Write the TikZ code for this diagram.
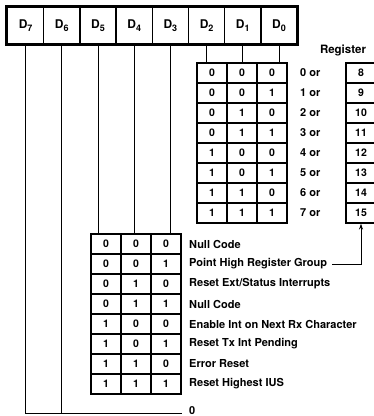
\documentclass[tikz,border=0pt]{standalone}
\usepackage{fontspec}
\setmainfont{TeX Gyre Heros}
\usetikzlibrary{arrows.meta}
\begin{document}
\begin{tikzpicture}[x=1pt,y=-1pt,
  bitcell/.style={draw,line width=1.5pt,minimum width=36.2pt,minimum height=37pt,inner sep=0pt,font=\bfseries\fontsize{12}{12}\selectfont},
  tcell/.style={draw,line width=1.1pt,minimum width=30pt,minimum height=20pt,inner sep=0pt,font=\bfseries\fontsize{10.5}{10.5}\selectfont},
  rcell/.style={draw,line width=1.1pt,minimum width=30pt,minimum height=20pt,inner sep=0pt,font=\bfseries\fontsize{10.5}{10.5}\selectfont},
  lbl/.style={anchor=west,inner sep=0pt,font=\bfseries\fontsize{11}{11}\selectfont},
  wire/.style={line width=1pt}]
\useasboundingbox (0,0) rectangle (374,416);
% bit register
\foreach \i in {0,...,7}{
  \node[bitcell] (b\i) at ({7.5+36.2*(7-\i)+18.1},25.5) {D\raisebox{-2.5pt}{\fontsize{9}{9}\selectfont\i}};
}
\draw[line width=3pt] (b7.north west) rectangle (b0.south east);
% register table
\foreach \r/\a/\b/\c/\n in {0/0/0/0/8,1/0/0/1/9,2/0/1/0/10,3/0/1/1/11,4/1/0/0/12,5/1/0/1/13,6/1/1/0/14,7/1/1/1/15}{
  \node[tcell] (ra\r) at (212,{73+20*\r}) {\a};
  \node[tcell] (rb\r) at (242,{73+20*\r}) {\b};
  \node[tcell] (rc\r) at (272,{73+20*\r}) {\c};
  \node[lbl] (ro\r) at (300,{73+20*\r}) {\r\ or};
  \node[rcell] (rr\r) at (361,{73+20*\r}) {\n};
}
\node[font=\bfseries\fontsize{11.5}{11.5}\selectfont] (reg) at (343,50) {Register};
% lower table
\foreach \r/\a/\b/\c/\t in {0/0/0/0/{Null Code},1/0/0/1/{Point High Register Group},2/0/1/0/{Reset Ext/Status Interrupts},3/0/1/1/{Null Code},4/1/0/0/{Enable Int on Next Rx Character},5/1/0/1/{Reset Tx Int Pending},6/1/1/0/{Error Reset},7/1/1/1/{Reset Highest IUS}}{
  \node[tcell] (la\r) at (106,{244+20*\r}) {\a};
  \node[tcell] (lb\r) at (136,{244+20*\r}) {\b};
  \node[tcell] (lc\r) at (166,{244+20*\r}) {\c};
  \node[lbl] (lt\r) at (189,{244+20*\r}) {\t};
}
% wires to register table
\draw[wire] (b2.south) -- (b2.south |- ra0.north);
\draw[wire] (b1.south) -- (b1.south |- ra0.north);
\draw[wire] (b0.south) -- (b0.south |- ra0.north);
% wires to lower table
\draw[wire] (b5.south) -- (b5.south |- la0.north);
\draw[wire] (b4.south) -- (b4.south |- la0.north);
\draw[wire] (b3.south) -- (b3.south |- la0.north);
% D7, D6 to 0
\node[lbl,anchor=south west] (zero) at (189,414.6) {0};
\coordinate (zend) at (182,413);
\draw[wire] (b7.south) -- (b7.south |- zend) -- (zend);
\draw[wire] (b6.south) -- (b6.south |- zend);
% arrow
\draw[wire,{Stealth[length=6pt,width=4pt]}-] (rr7.south) -- (rr7.south |- lt1.east) -- ([xshift=5pt]lt1.east);
\end{tikzpicture}
\end{document}
